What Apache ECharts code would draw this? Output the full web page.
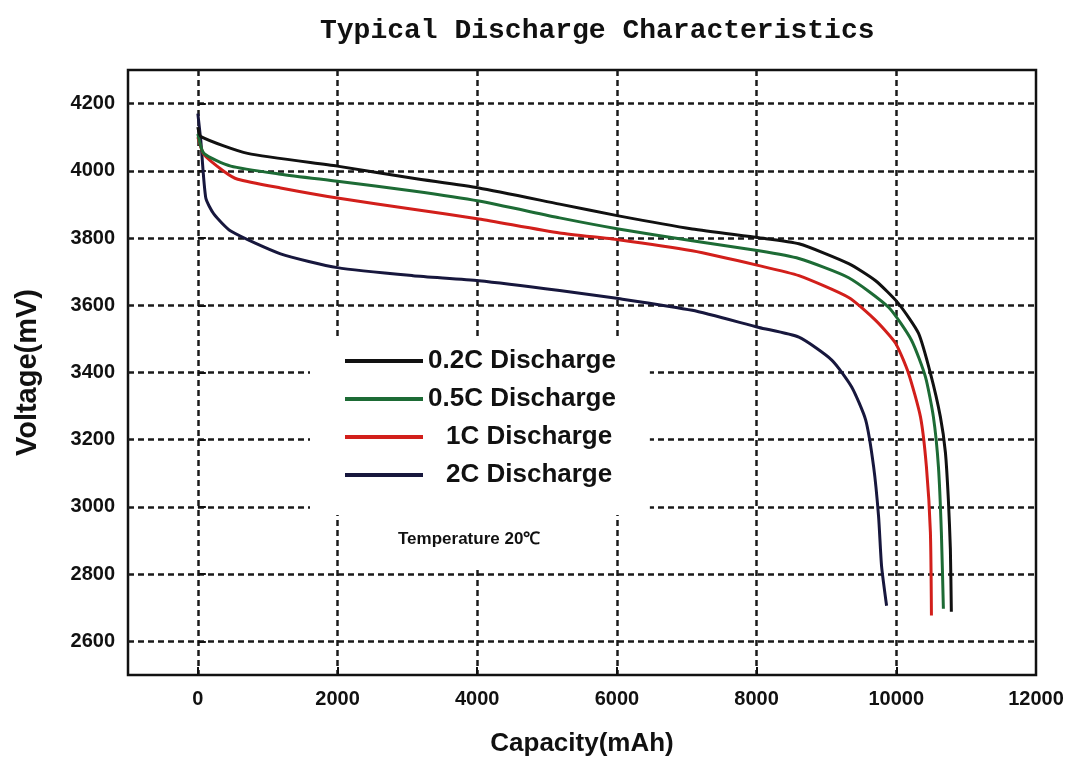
<!DOCTYPE html>
<html>
<head>
<meta charset="utf-8">
<script src="https://cdn.jsdelivr.net/npm/echarts@6/dist/echarts.min.js"></script>
<style>
  html, body { margin: 0; padding: 0; background: #fff; }
  #main { width: 1078px; height: 762px; }
</style>
</head>
<body>
<div id="main"></div>
<script>
// capacity (mAh), voltage (mV) pairs
var d02 = [[0, 4130], [43, 4102], [713, 4052], [1998, 4014], [3082, 3978], [4024, 3949], [5180, 3901],
  [6022, 3866], [7078, 3827], [8034, 3801], [8605, 3783], [9318, 3724], [9704, 3673], [10032, 3605],
  [10317, 3517], [10488, 3398], [10631, 3268], [10703, 3162], [10745, 3023], [10774, 2875], [10788, 2688]];
var d05 = [[0, 4110], [86, 4052], [471, 4014], [1184, 3990], [1998, 3969], [3082, 3940], [4024, 3910],
  [5180, 3860], [6022, 3827], [7078, 3792], [8034, 3762], [8605, 3739], [9318, 3682], [9889, 3594],
  [10217, 3496], [10417, 3387], [10531, 3268], [10603, 3120], [10645, 2925], [10674, 2697]];
var d1 = [[0, 4100], [86, 4049], [371, 3999], [571, 3975], [1184, 3949], [1998, 3919], [3082, 3886],
  [4024, 3857], [5180, 3815], [6022, 3795], [7078, 3762], [8034, 3718], [8605, 3688], [9318, 3623],
  [9704, 3555], [9989, 3487], [10174, 3398], [10346, 3268], [10431, 3120], [10488, 2925], [10503, 2677]];
var d2 = [[0, 4170], [43, 4088], [114, 3919], [228, 3872], [471, 3821], [1184, 3753], [1998, 3712],
  [3082, 3688], [4024, 3673], [5180, 3644], [6022, 3620], [7078, 3585], [8034, 3534], [8605, 3505],
  [9076, 3437], [9361, 3357], [9561, 3259], [9675, 3120], [9746, 2972], [9789, 2824], [9861, 2706]];

var seriesNames = ['0.2C Discharge', '0.5C Discharge', '1C Discharge', '2C Discharge'];
var seriesColors = ['#111111', '#1d6b35', '#d21f1b', '#17173d'];
var xTicks = [0, 2000, 4000, 6000, 8000, 10000];
var xLabels = [0, 2000, 4000, 6000, 8000, 10000, 12000];
var yTicks = [2600, 2800, 3000, 3200, 3400, 3600, 3800, 4000, 4200];

var chart = echarts.init(document.getElementById('main'));

var gridLine = { color: '#1a1a1a', width: 2.5, type: [6, 4] };
var font = 'Liberation Sans, Arial, sans-serif';

var allData = [d02, d05, d1, d2];
var series = [];
for (var i = 0; i < allData.length; i++) {
    series.push({
        name: seriesNames[i],
        type: 'line',
        data: allData[i],
        showSymbol: false,
        smooth: 0.2,
        lineStyle: { color: seriesColors[i], width: 3, join: 'round' },
        itemStyle: { color: seriesColors[i] },
        z: 10 - i
    });
}

chart.setOption({
    animation: false,
    backgroundColor: '#fff',
    title: {
        text: 'Typical Discharge Characteristics',
        left: 315,
        top: 12,
        textStyle: { fontFamily: 'Liberation Mono, monospace', fontWeight: 'bold', fontSize: 28, color: '#111' }
    },
    legend: {
        orient: 'vertical',
        left: 310,
        top: 338,
        backgroundColor: '#fff',
        padding: [10, 34, 27, 35],
        icon: 'rect',
        itemWidth: 78,
        itemHeight: 4,
        itemGap: 12,
        data: seriesNames,
        formatter: function (n) {
            return n.indexOf('0.') === 0 ? n : '{ind|' + n + '}';
        },
        textStyle: {
            fontFamily: font, fontWeight: 'bold', fontSize: 26, color: '#111',
            rich: { ind: { padding: [0, 0, 0, 18], fontFamily: font, fontWeight: 'bold', fontSize: 26, color: '#111' } }
        }
    },
    grid: {
        left: 128, right: 42, top: 70, bottom: 87,
        show: true, borderColor: '#111', borderWidth: 2.5,
        outerBoundsMode: 'none'
    },
    xAxis: {
        type: 'value',
        min: -1000,
        max: 12000,
        name: 'Capacity(mAh)',
        nameLocation: 'middle',
        nameGap: 56,
        nameTextStyle: { fontFamily: font, fontWeight: 'bold', fontSize: 26, color: '#111' },
        axisLine: { show: false },
        axisTick: { show: true, inside: true, length: 8, customValues: xTicks, lineStyle: { color: '#111', width: 2 } },
        axisLabel: {
            customValues: xLabels, margin: 14, fontFamily: font, fontWeight: 'bold', fontSize: 20, color: '#111',
            formatter: function (v) { return String(v); }
        },
        splitLine: { show: true, lineStyle: gridLine }
    },
    yAxis: {
        type: 'value',
        min: 2500,
        max: 4300,
        name: 'Voltage(mV)',
        nameLocation: 'middle',
        nameGap: 86,
        nameTextStyle: { fontFamily: font, fontWeight: 'bold', fontSize: 29, color: '#111' },
        axisLine: { show: false },
        axisTick: { show: true, inside: true, length: 8, customValues: yTicks, lineStyle: { color: '#111', width: 2 } },
        axisLabel: {
            customValues: yTicks, margin: 13, fontFamily: font, fontWeight: 'bold', fontSize: 20, color: '#111',
            formatter: function (v) { return String(v); }
        },
        splitLine: { show: true, lineStyle: gridLine }
    },
    graphic: [
        {
            type: 'rect', z: 3,
            shape: { x: 342, y: 514, width: 272, height: 54 },
            style: { fill: '#fff' }
        },
        {
            type: 'text', z: 4,
            x: 398, y: 531,
            style: { text: 'Temperature 20\u2103', fontFamily: font, fontWeight: 'bold', fontSize: 17, fill: '#111' }
        }
    ],
    series: series
});
</script>
</body>
</html>
